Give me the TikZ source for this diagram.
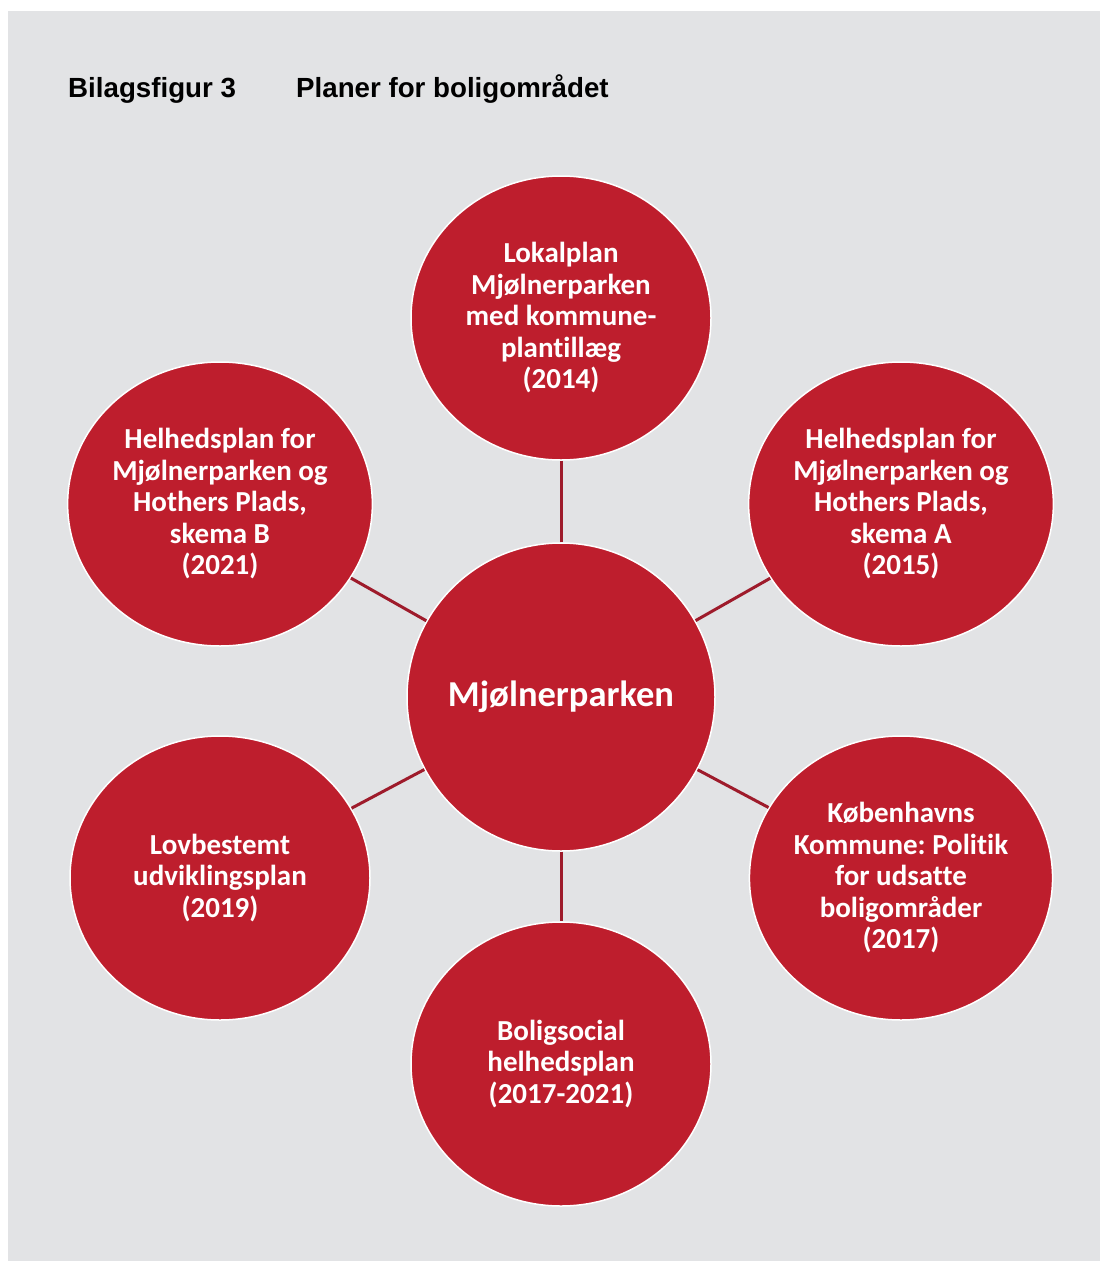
\documentclass[tikz,border=0pt]{standalone}
\usepackage{fontspec}
\setmainfont{Liberation Sans}
\newfontfamily\circfont[Ligatures=NoCommon]{Carlito}
\usepackage{tikz}
\usetikzlibrary{positioning,shapes.geometric}

\definecolor{planred}{HTML}{BE1E2D}
\definecolor{linkred}{HTML}{9E1B2B}
\definecolor{panelgray}{HTML}{E2E3E5}

\tikzset{
    plan/.style={ellipse, fill=planred, draw=white, line width=1.5pt,
        minimum width=300pt, minimum height=284pt, inner sep=0pt, align=center, text=white,
        font=\circfont\bfseries\fontsize{29}{31.5}\selectfont},
    hub/.style={plan, circle, minimum size=308pt,
        font=\circfont\bfseries\fontsize{36.5}{40}\selectfont},
    link/.style={linkred, line width=3pt}
}

\begin{document}
\frenchspacing
\begin{tikzpicture}[x=1pt, y=-1pt]
    % Panel
    \useasboundingbox (0,0) rectangle (1100,1261);
    \fill[panelgray] (8,11) rectangle (1100,1261);

    % Heading
    \node[anchor=base west, inner sep=0pt, font=\bfseries\fontsize{27.7}{30}\selectfont] (fignum) at (68,97) {Bilagsfigur 3};
    \node[anchor=base west, inner sep=0pt, font=\bfseries\fontsize{27.7}{30}\selectfont] (figtitle) at (296,97) {Planer for boligområdet};

    % Centre
    \node[hub] (mjoel) at (561,697) {Mjølnerparken};

    % Plans around the centre
    \node[plan] (lokal) at (561,318) {Lokalplan\\Mjølnerparken\\med kommune-\\plantillæg\\(2014)};
    \node[plan] (skemaA) at (901,504) {Helhedsplan for\\Mjølnerparken og\\Hothers Plads,\\skema A\\(2015)};
    \node[plan] (kbh) at (901,878) {Københavns\\Kommune: Politik\\for udsatte\\boligområder\\(2017)};
    \node[plan] (bolig) at (561,1064) {Boligsocial\\helhedsplan\\(2017-2021)};
    \node[plan] (lovbest) at (220,878) {Lovbestemt\\udviklingsplan\\(2019)};
    \node[plan] (skemaB) at (220,504) {Helhedsplan for\\Mjølnerparken og\\Hothers Plads,\\skema B\\(2021)};

    % Links
    \foreach \p in {lokal,skemaA,kbh,bolig,lovbest,skemaB}
        \draw[link] (mjoel) -- (\p);
\end{tikzpicture}
\end{document}
